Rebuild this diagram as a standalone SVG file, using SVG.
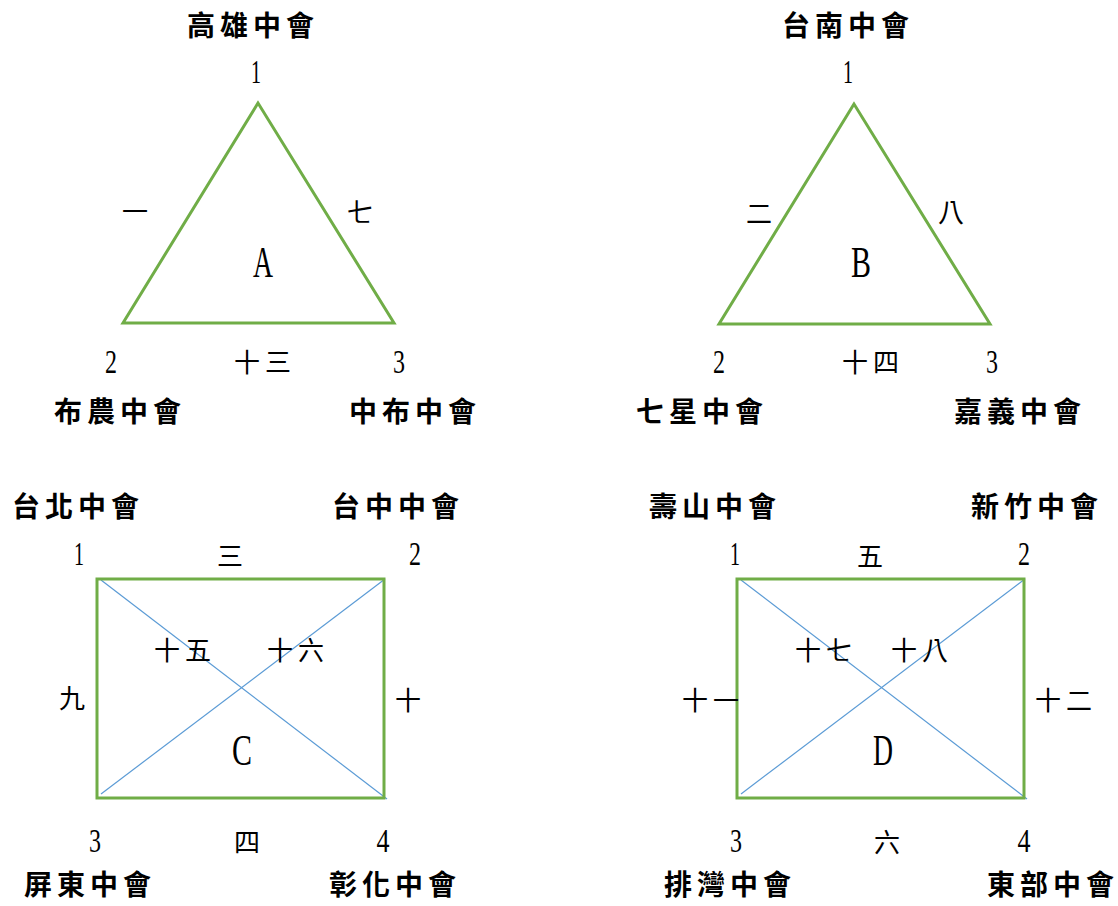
<svg xmlns="http://www.w3.org/2000/svg" width="1118" height="906" viewBox="0 0 1118 906">
<style>
.shape{fill:none;stroke:#70AD47;stroke-width:3}
.diag{stroke:#5B9BD5;stroke-width:1.2;fill:none}
.title{font-family:"Noto Sans CJK TC","Noto Sans CJK SC",sans-serif;font-weight:bold;font-size:28px;letter-spacing:5px;fill:#000}
.lbl{font-family:"Noto Sans CJK TC","Noto Sans CJK SC",sans-serif;font-weight:normal;font-size:26px;letter-spacing:5px;fill:#000}
.num{font-family:"Liberation Serif",serif;font-size:33px;fill:#000;text-anchor:middle}
.big{font-family:"Liberation Serif",serif;font-size:45px;fill:#000;text-anchor:middle}
</style>
<rect width="1118" height="906" fill="#fff"/>
<g id="connectors">
<line class="diag" x1="101" y1="580" x2="387" y2="799"/>
<line class="diag" x1="101" y1="794" x2="385" y2="579"/>
<line class="diag" x1="741" y1="580" x2="1027" y2="799"/>
<line class="diag" x1="741" y1="794" x2="1025" y2="579"/>
</g>
<g id="nodeA">
<polygon class="shape" points="258,103 123,323 394,323"/>
<text class="big" x="263" y="277" textLength="20" lengthAdjust="spacingAndGlyphs">A</text>
<text class="title" x="187" y="36">高雄中會</text>
<text class="title" x="54" y="422">布農中會</text>
<text class="title" x="349" y="422">中布中會</text>
<text class="num" x="256" y="83" textLength="10" lengthAdjust="spacingAndGlyphs">1</text>
<text class="num" x="111" y="373" textLength="12" lengthAdjust="spacingAndGlyphs">2</text>
<text class="num" x="399" y="373" textLength="12" lengthAdjust="spacingAndGlyphs">3</text>
<text class="lbl" x="122" y="221">一</text>
<text class="lbl" x="347" y="222">七</text>
<text class="lbl" x="234" y="372">十三</text>
</g>
<g id="nodeB">
<polygon class="shape" points="854,104 719,324 990,324"/>
<text class="big" x="861" y="277" textLength="20" lengthAdjust="spacingAndGlyphs">B</text>
<text class="title" x="782" y="36">台南中會</text>
<text class="title" x="636" y="422">七星中會</text>
<text class="title" x="954" y="422">嘉義中會</text>
<text class="num" x="848" y="83" textLength="10" lengthAdjust="spacingAndGlyphs">1</text>
<text class="num" x="719" y="373" textLength="12" lengthAdjust="spacingAndGlyphs">2</text>
<text class="num" x="992" y="373" textLength="12" lengthAdjust="spacingAndGlyphs">3</text>
<text class="lbl" x="746" y="223">二</text>
<text class="lbl" x="938" y="222">八</text>
<text class="lbl" x="842" y="372">十四</text>
</g>
<g id="nodeC">
<rect class="shape" x="97" y="579" width="287" height="219"/>
<text class="big" x="242" y="765" textLength="20" lengthAdjust="spacingAndGlyphs">C</text>
<text class="title" x="12" y="517">台北中會</text>
<text class="title" x="332" y="517">台中中會</text>
<text class="title" x="24" y="895">屏東中會</text>
<text class="title" x="329" y="895">彰化中會</text>
<text class="num" x="79" y="565" textLength="10" lengthAdjust="spacingAndGlyphs">1</text>
<text class="num" x="415" y="565" textLength="12" lengthAdjust="spacingAndGlyphs">2</text>
<text class="num" x="95" y="852" textLength="12" lengthAdjust="spacingAndGlyphs">3</text>
<text class="num" x="383" y="852" textLength="13" lengthAdjust="spacingAndGlyphs">4</text>
<text class="lbl" x="217" y="566">三</text>
<text class="lbl" x="154" y="660">十五</text>
<text class="lbl" x="267" y="660">十六</text>
<text class="lbl" x="59" y="708">九</text>
<text class="lbl" x="395" y="710">十</text>
<text class="lbl" x="234" y="852">四</text>
</g>
<g id="nodeD">
<rect class="shape" x="737" y="579" width="287" height="219"/>
<text class="big" x="883" y="765" textLength="20" lengthAdjust="spacingAndGlyphs">D</text>
<text class="title" x="649" y="517">壽山中會</text>
<text class="title" x="971" y="517">新竹中會</text>
<text class="title" x="664" y="895">排灣中會</text>
<text class="title" x="987" y="895">東部中會</text>
<text class="num" x="735" y="565" textLength="10" lengthAdjust="spacingAndGlyphs">1</text>
<text class="num" x="1024" y="565" textLength="12" lengthAdjust="spacingAndGlyphs">2</text>
<text class="num" x="736" y="852" textLength="12" lengthAdjust="spacingAndGlyphs">3</text>
<text class="num" x="1024" y="852" textLength="13" lengthAdjust="spacingAndGlyphs">4</text>
<text class="lbl" x="857" y="566">五</text>
<text class="lbl" x="795" y="660">十七</text>
<text class="lbl" x="891" y="660">十八</text>
<text class="lbl" x="682" y="710">十一</text>
<text class="lbl" x="1035" y="710">十二</text>
<text class="lbl" x="874" y="852">六</text>
</g>
</svg>
